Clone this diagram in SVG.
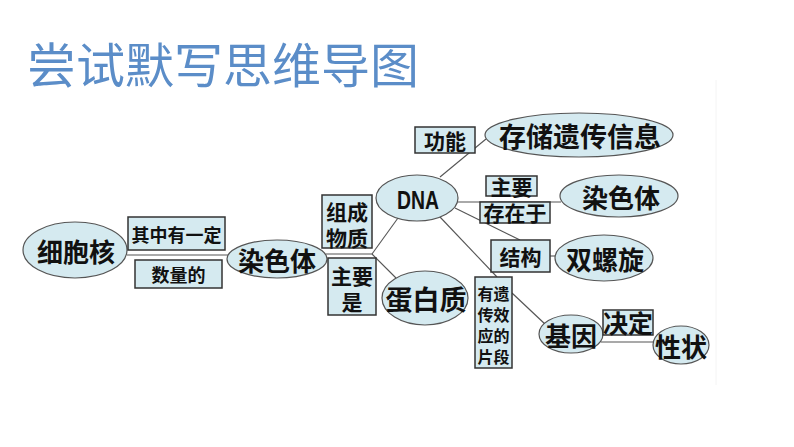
<svg xmlns="http://www.w3.org/2000/svg" width="794" height="447" viewBox="0 0 794 447">
<style>
.bg{fill:#ffffff}
.ell{fill:#d5eaf0;stroke:#555;stroke-width:1.2}
.box{fill:#d5eaf0;stroke:#333;stroke-width:1.5}
.ln{stroke:#555;stroke-width:1.1;fill:none}
text{font-family:"Noto Sans CJK SC","Liberation Sans",sans-serif;fill:#111;text-anchor:middle;dominant-baseline:central;font-weight:700}
.big{font-size:26px}
.mid{font-size:21px}
.sm{font-size:18px}
.v{font-size:16px}
.title{font-size:48px;fill:#5b8dc8;font-weight:400;text-anchor:start}
</style>
<rect class="bg" x="0" y="0" width="794" height="447"/>
<text class="title" x="27" y="62" textLength="392" lengthAdjust="spacingAndGlyphs">尝试默写思维导图</text>
<line x1="716" y1="80" x2="716" y2="385" stroke="#f4f4f4" stroke-width="1"/>
<g id="connectors">
<line class="ln" x1="127" y1="255" x2="228" y2="255"/>
<line class="ln" x1="326" y1="254" x2="372" y2="254"/>
<line class="ln" x1="372" y1="254" x2="398" y2="218"/>
<line class="ln" x1="372" y1="254" x2="396" y2="278"/>
<line class="ln" x1="440" y1="177" x2="486" y2="139"/>
<line class="ln" x1="458" y1="202" x2="561" y2="202"/>
<line class="ln" x1="455" y1="208" x2="520" y2="240"/>
<line class="ln" x1="440" y1="217" x2="497" y2="277"/>
<line class="ln" x1="550" y1="256" x2="556" y2="256"/>
<line class="ln" x1="512" y1="293" x2="546" y2="325"/>
<line class="ln" x1="601" y1="342" x2="655" y2="342"/>
</g>
<g id="node-xibaohe"><ellipse class="ell" cx="75" cy="250" rx="52" ry="28"/><text class="big" x="76" y="250">细胞核</text></g>
<g id="label-qizhong"><rect class="box" x="128" y="217" width="97" height="33"/><text class="sm" x="176.5" y="233.5">其中有一定</text></g>
<g id="label-shuliang"><rect class="box" x="135" y="260" width="87" height="28"/><text class="sm" x="178.5" y="274">数量的</text></g>
<g id="node-ranseti1"><ellipse class="ell" cx="277" cy="259" rx="50" ry="19"/><text class="big" x="277" y="259">染色体</text></g>
<g id="label-zucheng"><rect class="box" x="322" y="195" width="50" height="53"/><text class="mid" x="347" y="211">组成</text><text class="mid" x="347" y="237">物质</text></g>
<g id="label-zhuyaoshi"><rect class="box" x="328" y="258" width="48" height="57"/><text class="mid" x="352" y="275">主要</text><text class="mid" x="352" y="301">是</text></g>
<g id="node-dna"><ellipse class="ell" cx="417" cy="198" rx="41" ry="23"/><text x="418" y="200" style="font-family:'Liberation Sans',sans-serif;font-size:25px" textLength="42" lengthAdjust="spacingAndGlyphs">DNA</text></g>
<g id="node-danbaizhi"><ellipse class="ell" cx="425" cy="298" rx="43" ry="27"/><text class="big" x="426" y="298" style="font-size:27px">蛋白质</text></g>
<g id="label-gongneng"><rect class="box" x="415" y="127" width="60" height="26"/><text class="mid" x="445" y="140">功能</text></g>
<g id="node-cunchu"><ellipse class="ell" cx="579" cy="135" rx="94" ry="22"/><text class="big" x="580" y="135" style="font-size:27px">存储遗传信息</text></g>
<g id="label-zhuyao"><rect class="box" x="486" y="176" width="51" height="20"/><text class="mid" x="511.5" y="186">主要</text></g>
<g id="label-cunzaiyu"><rect class="box" x="480" y="202" width="70" height="21"/><text class="mid" x="515" y="212">存在于</text></g>
<g id="node-ranseti2"><ellipse class="ell" cx="619" cy="196" rx="59" ry="21"/><text class="big" x="621" y="196">染色体</text></g>
<g id="label-jiegou"><rect class="box" x="491" y="240" width="59" height="32"/><text class="mid" x="520.5" y="256">结构</text></g>
<g id="node-shuangluoxuan"><ellipse class="ell" cx="604" cy="258" rx="49" ry="23"/><text class="big" x="605" y="258">双螺旋</text></g>
<g id="label-youyichuan"><rect class="box" x="475" y="277" width="37" height="91"/><text class="v" x="493.5" y="293">有遗</text><text class="v" x="493.5" y="314">传效</text><text class="v" x="493.5" y="335">应的</text><text class="v" x="493.5" y="356">片段</text></g>
<g id="node-jiyin"><ellipse class="ell" cx="571" cy="334" rx="32" ry="19"/><text class="big" x="571" y="334">基因</text></g>
<g id="label-jueding"><rect class="box" x="603" y="310" width="50" height="25"/><text class="big" x="628" y="322" style="font-size:25px">决定</text></g>
<g id="node-xingzhuang"><ellipse class="ell" cx="681" cy="345" rx="28" ry="19"/><text class="big" x="681" y="345">性状</text></g>
</svg>
